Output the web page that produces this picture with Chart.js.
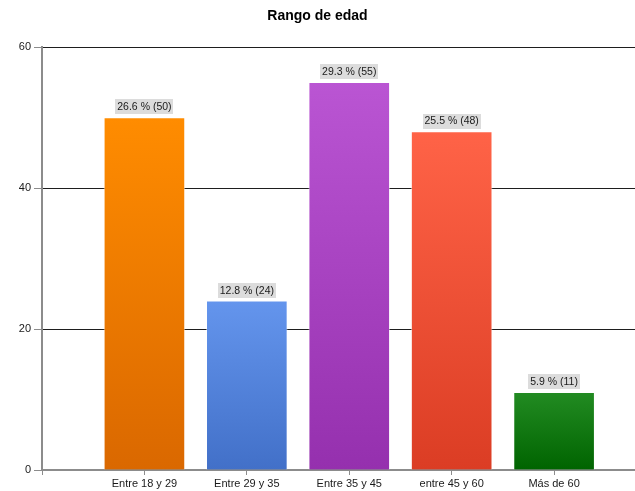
<!DOCTYPE html>
<html>
<head>
<meta charset="utf-8">
<script src="https://cdn.jsdelivr.net/npm/chart.js@4/dist/chart.umd.min.js"></script>
<style>
  html, body { margin: 0; padding: 0; background: #fff; }
  #wrap { width: 635px; height: 491px; }
</style>
</head>
<body>
<div id="wrap"><canvas id="c" width="635" height="491"></canvas></div>
<script>
const title = 'Rango de edad';
const categories = ['Entre 18 y 29', 'Entre 29 y 35', 'Entre 35 y 45', 'entre 45 y 60', 'Más de 60'];
const counts = [50, 24, 55, 48, 11];
const percentLabels = ['26.6', '12.8', '29.3', '25.5', '5.9'];
const yTicks = [0, 20, 40, 60];
const topColors = ['#FF8C00', '#6495ED', '#BA55D3', '#FF6347', '#228B22'];
const bottomColors = ['#DA6800', '#4270C8', '#9530AE', '#DB3D24', '#006400'];

const FONT = '"Liberation Sans", Arial, sans-serif';
const AXIS = '#8c8c8c';

const points = counts.map((v, i) => ({ x: i + 1, y: v }));

const barLabels = {
  id: 'barLabels',
  afterDatasetsDraw(chart) {
    const ctx = chart.ctx;
    const meta = chart.getDatasetMeta(0);
    ctx.save();
    ctx.font = '10.5px ' + FONT;
    ctx.textAlign = 'center';
    ctx.textBaseline = 'middle';
    meta.data.forEach((el, i) => {
      const txt = percentLabels[i] + ' % (' + counts[i] + ')';
      const w = Math.round(ctx.measureText(txt).width) + 4;
      const h = 15;
      const x = el.x, y = el.y - 3 - h;
      ctx.fillStyle = '#DCDCDC';
      ctx.fillRect(Math.round(x - w / 2), Math.round(y), w, h);
      ctx.fillStyle = '#1a1a1a';
      ctx.fillText(txt, x, y + h / 2 + 0.5);
    });
    ctx.restore();
  }
};

new Chart(document.getElementById('c'), {
  type: 'bar',
  data: {
    datasets: [{
      data: points,
      barThickness: 81,
      borderWidth: 1,
      borderColor: 'rgba(255,255,255,0.45)',
      borderSkipped: 'bottom',
      backgroundColor: (c) => {
        const chart = c.chart;
        const i = c.dataIndex;
        if (!chart.chartArea || c.type !== 'data') return topColors[i];
        const ys = chart.scales.y;
        const v = counts[i];
        const yTop = ys.getPixelForValue(v), yBot = ys.getPixelForValue(0);
        const g = chart.ctx.createLinearGradient(0, yTop, 0, yBot);
        g.addColorStop(0, topColors[i]);
        g.addColorStop(1, bottomColors[i]);
        return g;
      }
    }]
  },
  options: {
    responsive: false,
    animation: false,
    events: [],
    layout: { padding: 0 },
    plugins: {
      legend: { display: false },
      tooltip: { enabled: false },
      title: {
        display: true,
        text: title,
        color: '#000',
        font: { family: FONT, size: 14, weight: 'bold', lineHeight: 1.2 },
        padding: { top: 8, bottom: 22.2 }
      }
    },
    scales: {
      x: {
        type: 'linear',
        offset: false,
        min: 0,
        max: 5.79,
        afterBuildTicks: (s) => { s.ticks = [{ value: 0 }].concat(categories.map((_, i) => ({ value: i + 1 }))); },
        afterFit: (s) => { s.height = 21; },
        ticks: {
          autoSkip: false,
          maxRotation: 0,
          padding: 2,
          color: '#1a1a1a',
          font: { family: FONT, size: 11 },
          callback: (v) => (v >= 1 && v <= categories.length && Number.isInteger(v)) ? categories[v - 1] : ''
        },
        grid: { offset: false, drawOnChartArea: false, drawTicks: true, tickLength: 5, tickColor: AXIS, tickWidth: 1 },
        border: { display: true, color: AXIS, width: 2 }
      },
      y: {
        min: 0,
        max: 60,
        afterBuildTicks: (s) => { s.ticks = yTicks.map(v => ({ value: v })); },
        afterFit: (s) => { s.width = 42; },
        ticks: {
          padding: 3,
          color: '#1a1a1a',
          font: { family: FONT, size: 11 }
        },
        grid: {
          drawTicks: true,
          tickLength: 8,
          tickColor: AXIS,
          color: (c) => (c.tick && c.tick.value === 0) ? 'rgba(0,0,0,0)' : '#1e1e1e',
          lineWidth: 1
        },
        border: { display: true, color: AXIS, width: 2 }
      }
    }
  },
  plugins: [barLabels]
});
</script>
</body>
</html>
